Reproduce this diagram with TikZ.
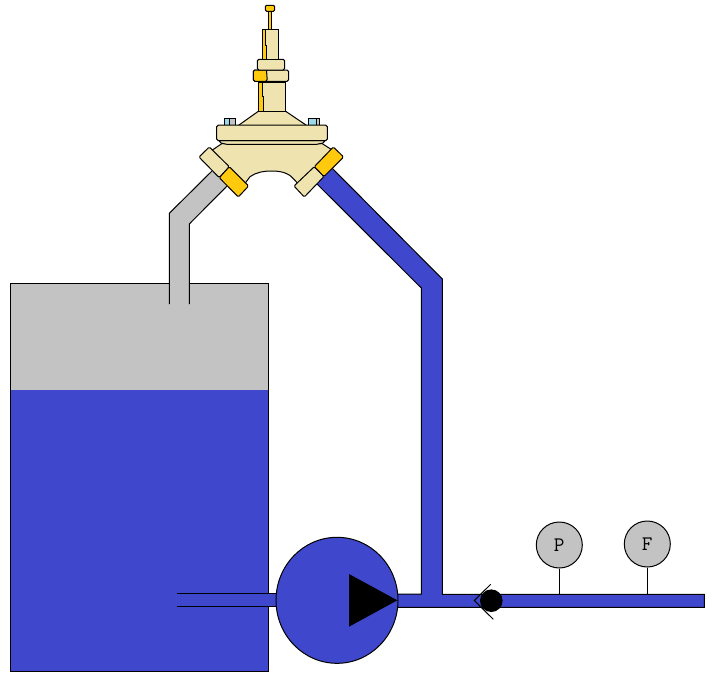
\documentclass[tikz,border=0pt]{standalone}
\definecolor{pipeblue}{RGB}{63,72,204}
\definecolor{gasgray}{RGB}{195,195,195}
\definecolor{valvetan}{RGB}{239,228,176}
\definecolor{valveorange}{RGB}{255,201,14}
\definecolor{boltblue}{RGB}{153,217,234}
\tikzset{
  ln/.style={line width=0.75pt,draw=black,line join=miter},
  tan/.style={ln,fill=valvetan},
  orange/.style={ln,fill=valveorange},
  gauge/.style={circle,draw=black,line width=0.75pt,fill=gasgray,minimum size=34.5pt,inner sep=0pt,font=\ttfamily\fontsize{15.5}{15.5}\selectfont},
}
\begin{document}
\begin{tikzpicture}[x=0.75pt,y=-0.75pt]
\useasboundingbox (0,0) rectangle (714,686);
% tank
\fill[gasgray] (10,283.3) rectangle (268.3,390);
\fill[pipeblue] (10,390) rectangle (268.3,671.3);
\draw[ln] (10,283.3) rectangle (268.3,671.3);
% gas pipe
\fill[gasgray] (215,168) -- (169.3,213.3) -- (169.3,304) -- (189.3,304) -- (189.3,224) -- (231,182) -- cycle;
\draw[ln] (215,168) -- (169.3,213.3) -- (169.3,304);
\draw[ln] (231,182) -- (189.3,224) -- (189.3,304);
% discharge pipe
\fill[pipeblue] (313,180) -- (421.3,288) -- (421.3,594) -- (390,594) -- (390,607.3) -- (704.3,607.3) -- (704.3,594.3) -- (442.3,594.3) -- (442.3,279) -- (328,164) -- cycle;
\draw[ln] (313,180) -- (421.3,288) -- (421.3,594) -- (395,594);
\draw[ln] (328,164) -- (442.3,279) -- (442.3,594.3) -- (704.3,594.3) -- (704.3,607.3) -- (395,607.3);
% suction pipe
\fill[pipeblue] (177,593.3) rectangle (280,606.3);
\draw[ln] (177,593.3) -- (278,593.3);
\draw[ln] (177,606.3) -- (278,606.3);
% pump
\draw[ln,fill=pipeblue] (337,600.3) ellipse [x radius=61,y radius=63];
\fill[black] (349,574) -- (349,626.7) -- (397.3,600.3) -- cycle;
% check valve
\draw[line width=0.75pt] (490.7,584.3) -- (474.3,600.5) -- (493.3,619.3);
\fill[black] (491.3,600.7) circle [radius=11.3];
% gauges
\node[gauge] (gp) at (559.3,545) {P};
\node[gauge] (gf) at (647.3,544) {F};
\coordinate (tp) at (559.3,594.3);
\coordinate (tf) at (647.3,594.3);
\draw[ln] (gp) -- (tp);
\draw[ln] (gf) -- (tf);
% valve body
\draw[tan] (222,143.5) -- (205,155) -- (240,190) -- (250,176.7) .. controls (256,172.5) and (263,171) .. (271.7,171) .. controls (280,171) and (288,172.5) .. (293,178.3) -- (304,190) -- (340,155) -- (322,143.5) -- cycle;
% fittings
\draw[tan,rounded corners=1pt] (199,157) -- (209.3,147) -- (229.3,166.7) -- (219.3,177.7) -- cycle;
\draw[orange,rounded corners=1pt] (219.3,177.7) -- (229.3,166.7) -- (248.6,186) -- (238.3,197) -- cycle;
\draw[tan,rounded corners=1pt] (314.3,166.7) -- (324,176.5) -- (304.3,197) -- (294,186) -- cycle;
\draw[orange,rounded corners=1pt] (314.3,166.7) -- (333.3,147) -- (343.6,157) -- (324,176.5) -- cycle;
% bolts
\fill[boltblue] (224,118.3) rectangle (229.3,125);
\fill[gasgray] (229.3,118.3) rectangle (235.7,125);
\fill[boltblue] (308.3,118.3) rectangle (316.7,125);
\fill[gasgray] (316.7,118.3) rectangle (319.7,125);
\draw[ln] (224,118.3) rectangle (235.7,125);
\draw[ln] (229.3,118.3) -- (229.3,125);
\draw[ln] (308.3,118.3) rectangle (319.7,125);
\draw[ln] (316.7,118.3) -- (316.7,125);
% bonnet cone
\draw[tan] (238.3,125.5) -- (258.3,111.3) -- (285.7,111.3) -- (306.7,125.5) -- cycle;
% flange
\draw[tan] (219,140.7) -- (221,143) -- (226.7,144.3) -- (316.7,144.3) -- (323,143) -- (325,140.7) -- cycle;
\draw[tan,rounded corners=1.2pt] (216.7,125) rectangle (327.3,140.7);
% lower spindle housing
\draw[tan] (258.3,81.3) rectangle (285.7,111.3);
\draw[orange] (258.3,81.3) -- (262.3,81.3) -- (262.3,96) -- (263.3,96) -- (263.3,111.3) -- (258.3,111.3) -- cycle;
% nut
\draw[tan,rounded corners=1.2pt] (253.3,70) rectangle (288.7,81.3);
\draw[orange,rounded corners=1.2pt] (266.5,70) -- (253.3,70) -- (253.3,81.3) -- (267.3,81.3) [sharp corners] -- cycle;
\draw[line width=1.5pt] (258.3,81.6) -- (285.7,81.6);
% collar
\draw[tan,rounded corners=1.2pt] (257.3,59.3) rectangle (284.7,70);
% upper housing
\draw[tan] (262.3,29) rectangle (278.7,59.3);
\draw[orange] (262.3,29) -- (265.5,29) -- (265.5,45) -- (266.5,45) -- (266.5,59.3) -- (262.3,59.3) -- cycle;
% stem
\draw[orange] (268.3,11.3) rectangle (271.7,29);
\draw[orange,rounded corners=1pt] (265.3,5.3) rectangle (274.7,11.3);
\end{tikzpicture}
\end{document}
